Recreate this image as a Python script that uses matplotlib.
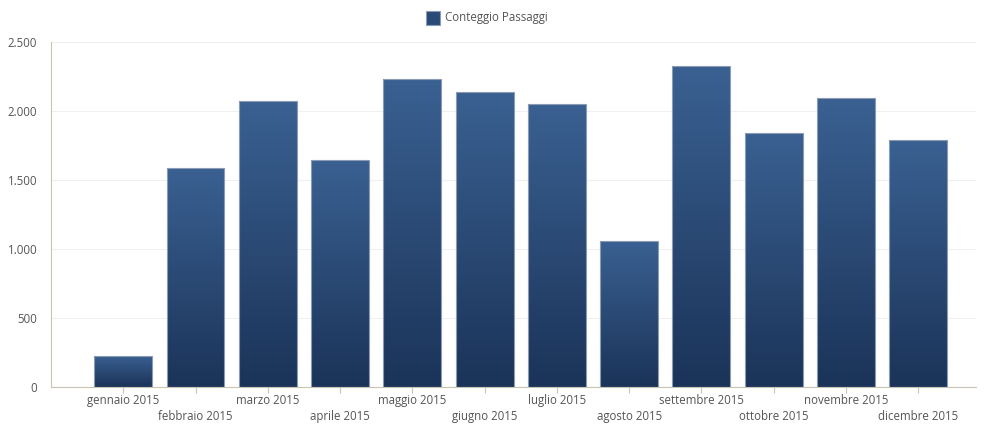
import numpy as np
import matplotlib.pyplot as plt
from matplotlib.patches import Rectangle
from matplotlib.colors import LinearSegmentedColormap

# dati
mesi = ["gennaio 2015", "febbraio 2015", "marzo 2015", "aprile 2015",
        "maggio 2015", "giugno 2015", "luglio 2015", "agosto 2015",
        "settembre 2015", "ottobre 2015", "novembre 2015", "dicembre 2015"]
passaggi = [225, 1587, 2072, 1645, 2232, 2138, 2051, 1058, 2326, 1841, 2094, 1790]
y_ticks = [0, 500, 1000, 1500, 2000, 2500]
y_labels = ["0", "500", "1.000", "1.500", "2.000", "2.500"]

plt.rcParams['font.family'] = ['Open Sans', 'DejaVu Sans']

fig = plt.figure(figsize=(9.86, 4.25), dpi=100)
ax = fig.add_axes([51 / 986, 38 / 425, 925 / 986, 345 / 425])

x = np.arange(len(mesi))
width = 0.8
cmap = LinearSegmentedColormap.from_list("blu", ["#1b3358", "#3a6192"])
grad = np.linspace(0, 1, 256).reshape(-1, 1)

for xi, val in zip(x, passaggi):
    # barra con sfumatura verticale
    rect = Rectangle((xi - width / 2, 0), width, val, facecolor="none",
                     edgecolor="#8a9bb3", linewidth=0.8, zorder=3)
    ax.add_patch(rect)
    im = ax.imshow(grad, cmap=cmap, aspect="auto", origin="lower",
                   extent=[xi - width / 2, xi + width / 2, 0, val], zorder=2)
    im.set_clip_path(rect)

ax.set_xlim(-1, 11.8)
ax.set_ylim(0, 2500)
ax.set_yticks(y_ticks)
ax.set_yticklabels(y_labels)
ax.yaxis.grid(True, color="#f0f0f0", linewidth=0.8)
ax.set_axisbelow(True)

ax.set_xticks(x)
ax.set_xticklabels([])
for xi, lab in zip(x, mesi):
    off = -9.5 if xi % 2 == 0 else -21.5
    ax.annotate(lab, (xi, 0), xytext=(0, off), textcoords="offset points",
                ha="center", va="center", fontsize=8.3, color="#555555",
                annotation_clip=False)

ax.tick_params(axis="y", length=0, labelsize=8.3, labelcolor="#555555", pad=10)
ax.tick_params(axis="x", length=4, color="#c8c4b4", direction="out")

for s in ["top", "right"]:
    ax.spines[s].set_visible(False)
ax.spines["left"].set_color("#c8c4b4")
ax.spines["bottom"].set_color("#c8c4b4")

# legenda
fig.patches.append(Rectangle((426 / 986, 1 - 25 / 425), 14 / 986, 14 / 425,
                             transform=fig.transFigure, facecolor="#2a4a78",
                             edgecolor="#8a9bb3", linewidth=0.8))
fig.text(445 / 986, 1 - 18 / 425, "Conteggio Passaggi", fontsize=8.3,
         color="#555555", va="center", ha="left")

fig.savefig("out.png", dpi=100)
